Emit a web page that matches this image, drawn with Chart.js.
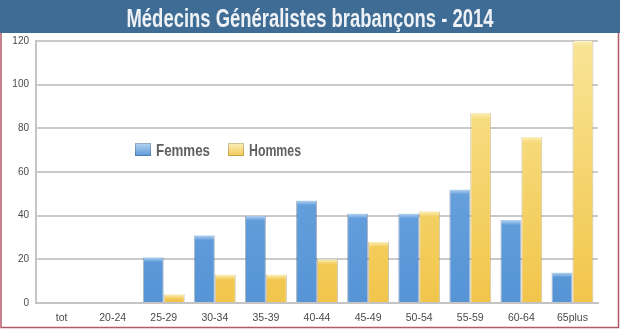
<!DOCTYPE html>
<html>
<head>
<meta charset="utf-8">
<script src="https://cdn.jsdelivr.net/npm/chart.js@4/dist/chart.umd.min.js"></script>
<style>
	html, body { margin: 0; padding: 0; background: #ffffff; }
	canvas { display: block; }
</style>
</head>
<body>
<canvas id="chart" width="620" height="329"></canvas>
<script>
// Tranches d'age et effectifs par sexe
var ageGroups = ["tot", "20-24", "25-29", "30-34", "35-39", "40-44", "45-49", "50-54", "55-59", "60-64", "65plus"];
var femmes    = [0, 0, 21, 31, 40, 47, 41, 41, 52, 38, 14];
var hommes    = [0, 0, 4, 13, 13, 20, 28, 42, 87, 76, 120];
var yTicks    = [0, 20, 40, 60, 80, 100, 120];
var titleText = "Médecins Généralistes brabançons - 2014";

var FONT = "'Liberation Sans', Arial, sans-serif";

// bar colours: light cap, then top -> bottom shade over the plot height
var blueShade = { cap: [182, 212, 242], top: [122, 174, 228], bottom: [86, 148, 214] };
var goldShade = { cap: [252, 240, 190], top: [249, 229, 150], bottom: [241, 197, 74] };

function rgb (a) { return "rgb(" + a.map(Math.round).join(",") + ")"; }
function mix (a, b, t) { return a.map(function (v, i) { return v + (b[i] - v) * t; }); }

function barFill (shade)
{
	return function (ctx)
	{
		var chart = ctx.chart, area = chart.chartArea;
		if (!area || ctx.type !== 'data') return rgb(shade.top);
		var y = chart.scales.y;
		var yTop  = y.getPixelForValue(ctx.raw);
		var yBase = y.getPixelForValue(0);
		var h = yBase - yTop;
		if (h < 1) return rgb(shade.bottom);
		var span = area.bottom - area.top;
		var at = function (py) { return rgb(mix(shade.top, shade.bottom, (py - area.top) / span)); };
		var g = chart.ctx.createLinearGradient(0, yTop, 0, yBase);
		var capStop = Math.min(0.9, 5 / h);
		g.addColorStop(0, rgb(shade.cap));
		g.addColorStop(capStop, at(yTop + 5));
		g.addColorStop(1, at(yBase));
		return g;
	};
}

// draws text squeezed horizontally to a given width
function condensedText (c, text, x, y, width, align)
{
	var w = c.measureText(text).width;
	var k = width / w;
	c.save();
	c.translate(align === 'center' ? x - width / 2 : x, y);
	c.scale(k, 1);
	c.textAlign = 'left';
	c.fillText(text, 0, 0);
	c.restore();
}

// banner with title + outer frame
var frame = {
	id: 'frame',
	beforeDraw: function (chart)
	{
		var c = chart.ctx;
		c.save();
		c.fillStyle = "#ffffff";
		c.fillRect(0, 0, chart.width, chart.height);
		c.fillStyle = "#3e6c94";
		c.fillRect(0, 0, chart.width, 33);
		c.strokeStyle = "#b05a6a";
		c.lineWidth = 1.5;
		c.beginPath();
		c.moveTo(1, 33);
		c.lineTo(1, chart.height - 1.5);
		c.lineTo(chart.width - 1.5, chart.height - 1.5);
		c.lineTo(chart.width - 1.5, 33);
		c.stroke();

		c.fillStyle = "#eef2f6";
		c.font = "bold 25px " + FONT;
		c.textBaseline = "alphabetic";
		condensedText(c, titleText, 310, 27, 367, 'center');
		c.restore();
	}
};

// legend sitting inside the plot area
var innerLegend = {
	id: 'innerLegend',
	afterDatasetsDraw: function (chart)
	{
		var c = chart.ctx;
		var items = [
			{ x: 135, shade: blueShade, width: 54, label: chart.data.datasets[0].label },
			{ x: 228, shade: goldShade, width: 52, label: chart.data.datasets[1].label }
		];
		c.save();
		items.forEach(function (it)
		{
			var g = c.createLinearGradient(0, 143, 0, 157);
			g.addColorStop(0, rgb(it.shade.cap));
			g.addColorStop(1, rgb(it.shade.bottom));
			c.fillStyle = g;
			c.fillRect(it.x, 143, 16, 13);
			c.strokeStyle = "rgba(0,0,0,0.18)";
			c.lineWidth = 1;
			c.strokeRect(it.x + 0.5, 143.5, 15, 12);
			c.fillStyle = "#606060";
			c.font = "bold 17px " + FONT;
			c.textBaseline = "alphabetic";
			condensedText(c, it.label, it.x + 21, 156, it.width, 'left');
		});
		c.restore();
	}
};

new Chart(document.getElementById("chart").getContext("2d"), {
	type: 'bar',
	data: {
		labels: ageGroups,
		datasets: [
			{
				label: "Femmes",
				data: femmes,
				backgroundColor: barFill(blueShade),
				borderColor: "rgba(70,90,120,0.45)",
				borderWidth: { left: 1, top: 0, right: 1, bottom: 0 },
				categoryPercentage: 0.82,
				barPercentage: 1
			},
			{
				label: "Hommes",
				data: hommes,
				backgroundColor: barFill(goldShade),
				borderColor: "rgba(140,120,70,0.45)",
				borderWidth: { left: 1, top: 0, right: 1, bottom: 0 },
				categoryPercentage: 0.82,
				barPercentage: 1
			}
		]
	},
	options: {
		responsive: false,
		animation: false,
		layout: { padding: { left: 2, right: 22, top: 41, bottom: 4 } },
		plugins: {
			legend: { display: false },
			tooltip: { enabled: false },
			title: { display: false }
		},
		scales: {
			x: {
				grid: { display: false, drawTicks: false },
				border: { color: "#c4c4c4", width: 2 },
				ticks: { color: "#4a4a4a", font: { family: FONT, size: 10.5 }, padding: 9, maxRotation: 0 },
				afterFit: function (s) { s.height = 22; }
			},
			y: {
				min: 0,
				max: 120,
				afterBuildTicks: function (s) { s.ticks = yTicks.map(function (v) { return { value: v }; }); },
				grid: { color: "#cacaca", lineWidth: 2, drawTicks: false },
				border: { color: "#c4c4c4", width: 2 },
				ticks: { color: "#4a4a4a", font: { family: FONT, size: 10 }, padding: 7 },
				afterFit: function (s) { s.width = 34; }
			}
		}
	},
	plugins: [frame, innerLegend]
});
</script>
</body>
</html>
